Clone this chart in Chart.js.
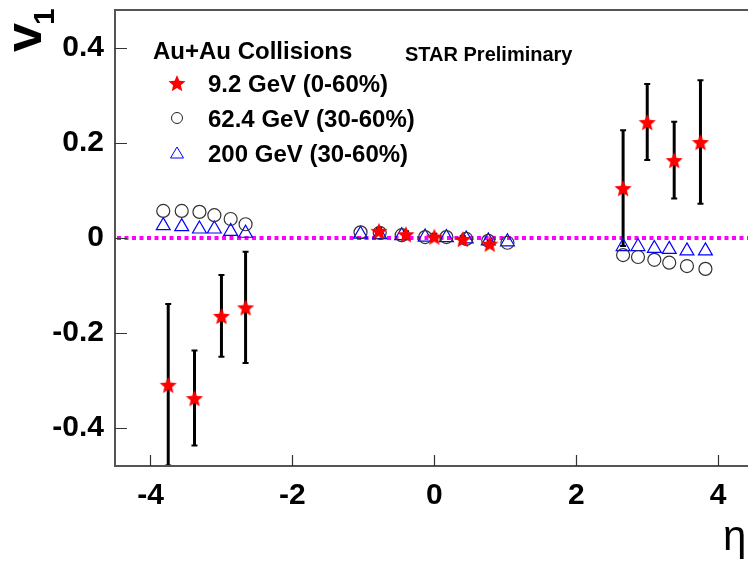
<!DOCTYPE html>
<html>
<head>
<meta charset="utf-8">
<script src="https://cdn.jsdelivr.net/npm/chart.js@4.4.1/dist/chart.umd.min.js"></script>
<style>
  html, body { margin: 0; padding: 0; background: #fff; overflow: hidden; }
  #wrap { width: 748px; height: 569px; }
</style>
</head>
<body>
<div id="wrap"><canvas id="chart" width="748" height="569"></canvas></div>
<script>
const eta92 = [-3.75, -3.38, -3.0, -2.66, -0.78, -0.4, 0.0, 0.4, 0.78, 2.66, 3.0, 3.38, 3.75];
const v1_92 = [-0.309, -0.337, -0.164, -0.146, 0.015, 0.008, 0.003, -0.002, -0.012, 0.105, 0.244, 0.164, 0.202];
const err92 = [0.17, 0.10, 0.086, 0.117, 0.006, 0.006, 0.006, 0.006, 0.006, 0.122, 0.08, 0.081, 0.13];

const eta62 = [-3.82, -3.56, -3.31, -3.1, -2.87, -2.66, -1.04, -0.77, -0.46, -0.13, 0.17, 0.45, 0.76, 1.03, 2.66, 2.87, 3.1, 3.31, 3.56, 3.82];
const v1_62 = [0.057, 0.057, 0.055, 0.048, 0.040, 0.029, 0.012, 0.011, 0.006, 0.002, 0.002, -0.002, -0.006, -0.010, -0.036, -0.040, -0.046, -0.052, -0.059, -0.065];

const eta200 = [-3.82, -3.56, -3.31, -3.1, -2.87, -2.66, -1.04, -0.77, -0.46, -0.13, 0.17, 0.45, 0.76, 1.03, 2.66, 2.87, 3.1, 3.31, 3.56, 3.82];
const v1_200 = [0.026, 0.024, 0.019, 0.019, 0.014, 0.010, 0.008, 0.007, 0.005, 0.002, 0.001, -0.002, -0.006, -0.008, -0.018, -0.018, -0.022, -0.024, -0.027, -0.027];

const seriesLabels = ['9.2 GeV (0-60%)', '62.4 GeV (30-60%)', '200 GeV (30-60%)'];
const xTicks = [-4, -2, 0, 2, 4];
const xTickLabels = ['-4', '-2', '0', '2', '4'];
const yTicks = [-0.4, -0.2, 0, 0.2, 0.4];
const yTickLabels = ['-0.4', '-0.2', '0', '0.2', '0.4'];

const FONT = "'Liberation Sans', Arial, Helvetica, sans-serif";

// filled 5 point star, chart.js only has an asterisk
function starImage(size, color) {
  const c = document.createElement('canvas');
  c.width = c.height = size;
  const g = c.getContext('2d');
  const r = size / 2, ri = r * 0.45;
  g.beginPath();
  for (let i = 0; i < 10; i++) {
    const a = -Math.PI / 2 + i * Math.PI / 5;
    const rr = i % 2 ? ri : r;
    g.lineTo(r + rr * Math.cos(a), r + 1 + rr * Math.sin(a));
  }
  g.closePath();
  g.fillStyle = color;
  g.fill();
  return c;
}
const star = starImage(18, '#ff0000');

const toPoints = (xs, ys) => xs.map((v, i) => ({ x: v, y: ys[i] }));

// zero line, error bars, frame, inward ticks and all the labels
const decor = {
  id: 'decor',
  beforeDatasetsDraw(chart) {
    const { ctx, chartArea: a, scales: { x, y } } = chart;
    ctx.save();
    ctx.beginPath();
    ctx.rect(a.left, a.top, a.right - a.left, a.bottom - a.top);
    ctx.clip();

    const y0 = y.getPixelForValue(0);
    ctx.strokeStyle = '#ff00ff';
    ctx.lineWidth = 4;
    ctx.setLineDash([4, 3.5]);
    ctx.beginPath();
    ctx.moveTo(a.left + 2, y0);
    ctx.lineTo(a.right, y0);
    ctx.stroke();
    ctx.setLineDash([]);

    ctx.strokeStyle = '#000';
    eta92.forEach((e, i) => {
      const px = x.getPixelForValue(e);
      const top = y.getPixelForValue(v1_92[i] + err92[i]);
      const bot = y.getPixelForValue(v1_92[i] - err92[i]);
      ctx.lineWidth = 3;
      ctx.beginPath();
      ctx.moveTo(px, top);
      ctx.lineTo(px, bot);
      ctx.stroke();
      ctx.lineWidth = 2;
      ctx.beginPath();
      ctx.moveTo(px - 3, top); ctx.lineTo(px + 3, top);
      ctx.moveTo(px - 3, bot); ctx.lineTo(px + 3, bot);
      ctx.stroke();
    });
    ctx.restore();
  },
  afterDraw(chart) {
    const { ctx, chartArea: a, scales: { x, y } } = chart;
    ctx.save();

    // frame (right side is off the picture)
    ctx.strokeStyle = '#555';
    ctx.lineWidth = 2;
    ctx.beginPath();
    ctx.moveTo(a.right, a.top);
    ctx.lineTo(a.left, a.top);
    ctx.lineTo(a.left, a.bottom);
    ctx.lineTo(a.right, a.bottom);
    ctx.stroke();

    ctx.strokeStyle = '#333';
    ctx.lineWidth = 1.2;
    ctx.beginPath();
    xTicks.forEach(v => {
      const px = Math.round(x.getPixelForValue(v)) + 0.5;
      ctx.moveTo(px, a.bottom);
      ctx.lineTo(px, a.bottom - 11);
    });
    yTicks.forEach(v => {
      const py = Math.round(y.getPixelForValue(v)) + 0.5;
      ctx.moveTo(a.left, py);
      ctx.lineTo(a.left + 12, py);
    });
    ctx.stroke();

    ctx.fillStyle = '#000';
    ctx.textBaseline = 'alphabetic';
    ctx.textAlign = 'left';
    ctx.font = 'bold 24px ' + FONT;
    ctx.fillText('Au+Au Collisions', 153, 59);
    ctx.font = 'bold 20px ' + FONT;
    ctx.fillText('STAR Preliminary', 405, 61);

    // legend
    const rows = [83, 118, 153];
    ctx.font = 'bold 24px ' + FONT;
    seriesLabels.forEach((t, i) => {
      ctx.fillStyle = '#000';
      ctx.fillText(t, 208, rows[i] + 9);
    });
    ctx.drawImage(star, 168, rows[0] - 9);
    ctx.strokeStyle = '#222';
    ctx.lineWidth = 1;
    ctx.beginPath();
    ctx.arc(177, rows[1], 5.5, 0, Math.PI * 2);
    ctx.stroke();
    ctx.strokeStyle = '#0000ff';
    ctx.beginPath();
    ctx.moveTo(177, rows[2] - 6);
    ctx.lineTo(183.5, rows[2] + 5);
    ctx.lineTo(170.5, rows[2] + 5);
    ctx.closePath();
    ctx.stroke();

    // axis titles
    ctx.fillStyle = '#000';
    ctx.save();
    ctx.translate(41, 52);
    ctx.rotate(-Math.PI / 2);
    ctx.font = 'bold 52px ' + FONT;
    ctx.fillText('v', 0, 0);
    const vw = ctx.measureText('v').width;
    ctx.font = 'bold 30px ' + FONT;
    ctx.fillText('1', vw - 2, 13);
    ctx.restore();

    ctx.font = '42px ' + FONT;
    ctx.fillText('\u03b7', 723, 550);
    ctx.restore();
  }
};

const tickFont = { family: FONT, size: 30, weight: 'bold' };

new Chart(document.getElementById('chart'), {
  type: 'scatter',
  data: {
    datasets: [
      {
        label: seriesLabels[0],
        data: toPoints(eta92, v1_92),
        pointStyle: star,
        pointRadius: 9
      },
      {
        label: seriesLabels[1],
        data: toPoints(eta62, v1_62),
        pointStyle: 'circle',
        pointRadius: 6.5,
        borderColor: '#333',
        backgroundColor: 'rgba(0,0,0,0)',
        borderWidth: 1.2
      },
      {
        label: seriesLabels[2],
        data: toPoints(eta200, v1_200),
        pointStyle: 'triangle',
        pointRadius: 8,
        borderColor: '#0000ff',
        backgroundColor: 'rgba(0,0,0,0)',
        borderWidth: 1.2
      }
    ]
  },
  options: {
    responsive: false,
    devicePixelRatio: 1,
    animation: false,
    events: [],
    layout: { autoPadding: false, padding: { top: 10, right: 0, bottom: 0, left: 0 } },
    plugins: { legend: { display: false }, tooltip: { enabled: false } },
    scales: {
      x: {
        type: 'linear',
        min: -4.5,
        max: 4.42,
        grid: { display: false, tickLength: 0 },
        border: { display: false },
        afterBuildTicks: s => { s.ticks = xTicks.map(v => ({ value: v })); },
        afterFit: s => { s.height = 103; s.paddingLeft = 0; s.paddingRight = 0; },
        ticks: {
          font: tickFont,
          color: '#000',
          padding: 12,
          maxRotation: 0,
          autoSkip: false,
          callback: (v, i) => xTickLabels[i]
        }
      },
      y: {
        type: 'linear',
        min: -0.48,
        max: 0.48,
        grid: { display: false, tickLength: 0 },
        border: { display: false },
        afterBuildTicks: s => { s.ticks = yTicks.map(v => ({ value: v })); },
        afterFit: s => { s.width = 115; s.paddingTop = 0; s.paddingBottom = 0; },
        ticks: {
          font: tickFont,
          color: '#000',
          padding: 11,
          autoSkip: false,
          callback: (v, i) => yTickLabels[i]
        }
      }
    }
  },
  plugins: [decor]
});
</script>
</body>
</html>
